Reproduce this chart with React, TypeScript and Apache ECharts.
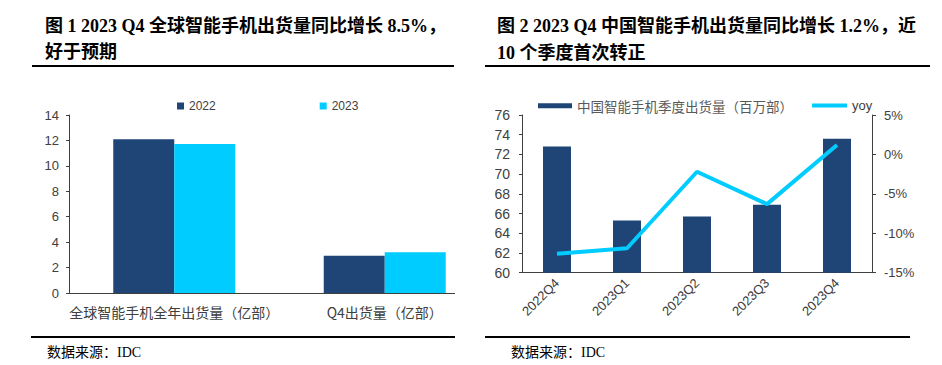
import React, { useEffect, useRef } from "react";
import * as echarts from "echarts";

// Left chart data
const globalCategories = ["全球智能手机全年出货量（亿部）", "Q4出货量（亿部）"];
const global2022 = [12.1, 2.93];
const global2023 = [11.72, 3.2];

// Right chart data
const quarters = ["2022Q4", "2023Q1", "2023Q2", "2023Q3", "2023Q4"];
const chinaShipments = [72.8, 65.3, 65.7, 66.9, 73.6];
const chinaYoy = [-12.6, -11.9, -2.2, -6.3, 1.2];

const title1a = "图 1 2023 Q4 全球智能手机出货量同比增长 8.5%，";
const title1b = "好于预期";
const title2a = "图 2 2023 Q4 中国智能手机出货量同比增长 1.2%，近";
const title2b = "10 个季度首次转正";
const sourceText = "数据来源：IDC";

const NAVY = "#1F4577";
const CYAN = "#00CCFF";
const AXIS = "#404040";
const SANS = "'Liberation Sans', Arial, sans-serif";
const CJK = "'Noto Sans CJK SC', 'Liberation Serif', serif";
const TITLE_FONT = "'Liberation Serif', 'Noto Sans CJK SC', serif";

export default function App() {
  const ref = useRef<HTMLDivElement>(null);
  useEffect(() => {
    if (!ref.current) return;
    const chart = echarts.init(ref.current, undefined, { renderer: "svg" });
    const titleStyle = (text: string) => ({
      text,
      fontSize: 18,
      fontWeight: "bold",
      fontFamily: TITLE_FONT,
      fill: "#000",
      verticalAlign: "middle",
    });
    chart.setOption({
      animation: false,
      backgroundColor: "#fff",
      grid: [
        { left: 69, top: 115, width: 421, height: 178 },
        { left: 522, top: 115, width: 350, height: 157.7 },
      ],
      legend: [
        {
          data: ["2022", "2023"],
          left: 177,
          top: 100,
          padding: 0,
          itemWidth: 7,
          itemHeight: 7,
          itemGap: 104,
          icon: "rect",
          textStyle: { fontSize: 12, color: AXIS, fontFamily: SANS },
        },
        {
          data: ["中国智能手机季度出货量（百万部）"],
          left: 538,
          top: 99,
          padding: 0,
          itemWidth: 34,
          itemHeight: 5,
          icon: "rect",
          textStyle: { fontSize: 13.5, color: "#595959", fontFamily: CJK },
        },
        {
          data: ["yoy"],
          left: 812,
          top: 99,
          padding: 0,
          itemWidth: 35,
          itemHeight: 4,
          icon: "rect",
          textStyle: { fontSize: 13, color: AXIS, fontFamily: SANS },
        },
      ],
      xAxis: [
        {
          type: "category",
          gridIndex: 0,
          data: globalCategories,
          axisLine: { show: false },
          axisTick: { show: false },
          axisLabel: { interval: 0, fontSize: 14, color: AXIS, fontFamily: CJK, margin: 12 },
        },
        {
          type: "category",
          gridIndex: 1,
          data: quarters,
          axisLine: { show: true, onZero: false, lineStyle: { color: AXIS } },
          axisTick: { show: false },
          axisLabel: { interval: 0, fontSize: 13, color: AXIS, fontFamily: SANS, rotate: 45, margin: 8 },
        },
      ],
      yAxis: [
        {
          type: "value",
          gridIndex: 0,
          min: 0,
          max: 14,
          interval: 2,
          axisLine: { show: true, lineStyle: { color: AXIS } },
          axisTick: { show: true, length: 3, lineStyle: { color: AXIS } },
          splitLine: { show: false },
          axisLabel: { fontSize: 13, color: AXIS, fontFamily: SANS, margin: 10 },
        },
        {
          type: "value",
          gridIndex: 1,
          min: 60,
          max: 76,
          interval: 2,
          axisLine: { show: true, lineStyle: { color: AXIS } },
          axisTick: { show: true, length: 3, lineStyle: { color: AXIS } },
          splitLine: { show: false },
          axisLabel: { fontSize: 14, color: AXIS, fontFamily: SANS, margin: 12 },
        },
        {
          type: "value",
          gridIndex: 1,
          position: "right",
          min: -15,
          max: 5,
          interval: 5,
          axisLine: { show: true, lineStyle: { color: AXIS } },
          axisTick: { show: true, length: 4, lineStyle: { color: AXIS } },
          splitLine: { show: false },
          axisLabel: {
            fontSize: 13,
            color: AXIS,
            fontFamily: SANS,
            margin: 12,
            formatter: (v: number) => `${v}%`,
          },
        },
      ],
      series: [
        {
          name: "2022",
          type: "bar",
          xAxisIndex: 0,
          yAxisIndex: 0,
          data: global2022,
          barWidth: 61,
          barGap: "0%",
          itemStyle: { color: NAVY },
        },
        {
          name: "2023",
          type: "bar",
          xAxisIndex: 0,
          yAxisIndex: 0,
          data: global2023,
          barWidth: 61,
          barGap: "0%",
          itemStyle: { color: CYAN },
        },
        {
          name: "中国智能手机季度出货量（百万部）",
          type: "bar",
          xAxisIndex: 1,
          yAxisIndex: 1,
          data: chinaShipments,
          barWidth: 28,
          itemStyle: { color: NAVY },
        },
        {
          name: "yoy",
          type: "line",
          xAxisIndex: 1,
          yAxisIndex: 2,
          data: chinaYoy,
          symbol: "none",
          lineStyle: { color: CYAN, width: 4 },
          itemStyle: { color: CYAN },
          z: 5,
        },
      ],
      graphic: [
        { type: "text", x: 45, y: 26, style: titleStyle(title1a) },
        { type: "text", x: 45, y: 52, style: titleStyle(title1b) },
        { type: "text", x: 497, y: 26, style: titleStyle(title2a) },
        { type: "text", x: 497, y: 53, style: titleStyle(title2b) },
        { type: "line", shape: { x1: 32, y1: 66, x2: 454, y2: 66 }, style: { stroke: "#000", lineWidth: 2 } },
        { type: "line", shape: { x1: 485, y1: 66, x2: 930, y2: 66 }, style: { stroke: "#000", lineWidth: 2 } },
        { type: "line", shape: { x1: 69, y1: 293.5, x2: 455, y2: 293.5 }, style: { stroke: AXIS, lineWidth: 1 } },
        { type: "line", shape: { x1: 31, y1: 337, x2: 455, y2: 337 }, style: { stroke: "#000", lineWidth: 2 } },
        { type: "line", shape: { x1: 485, y1: 337, x2: 910, y2: 337 }, style: { stroke: "#000", lineWidth: 2 } },
        {
          type: "text",
          x: 47,
          y: 352,
          style: { text: sourceText, fontSize: 14, fontFamily: TITLE_FONT, fill: "#000", verticalAlign: "middle" },
        },
        {
          type: "text",
          x: 511,
          y: 352,
          style: { text: sourceText, fontSize: 14, fontFamily: TITLE_FONT, fill: "#000", verticalAlign: "middle" },
        },
      ],
    });
    return () => chart.dispose();
  }, []);
  return (
    <div
      ref={ref}
      style={{ position: "absolute", left: 0, top: 0, width: 942, height: 365, background: "#fff" }}
    />
  );
}
